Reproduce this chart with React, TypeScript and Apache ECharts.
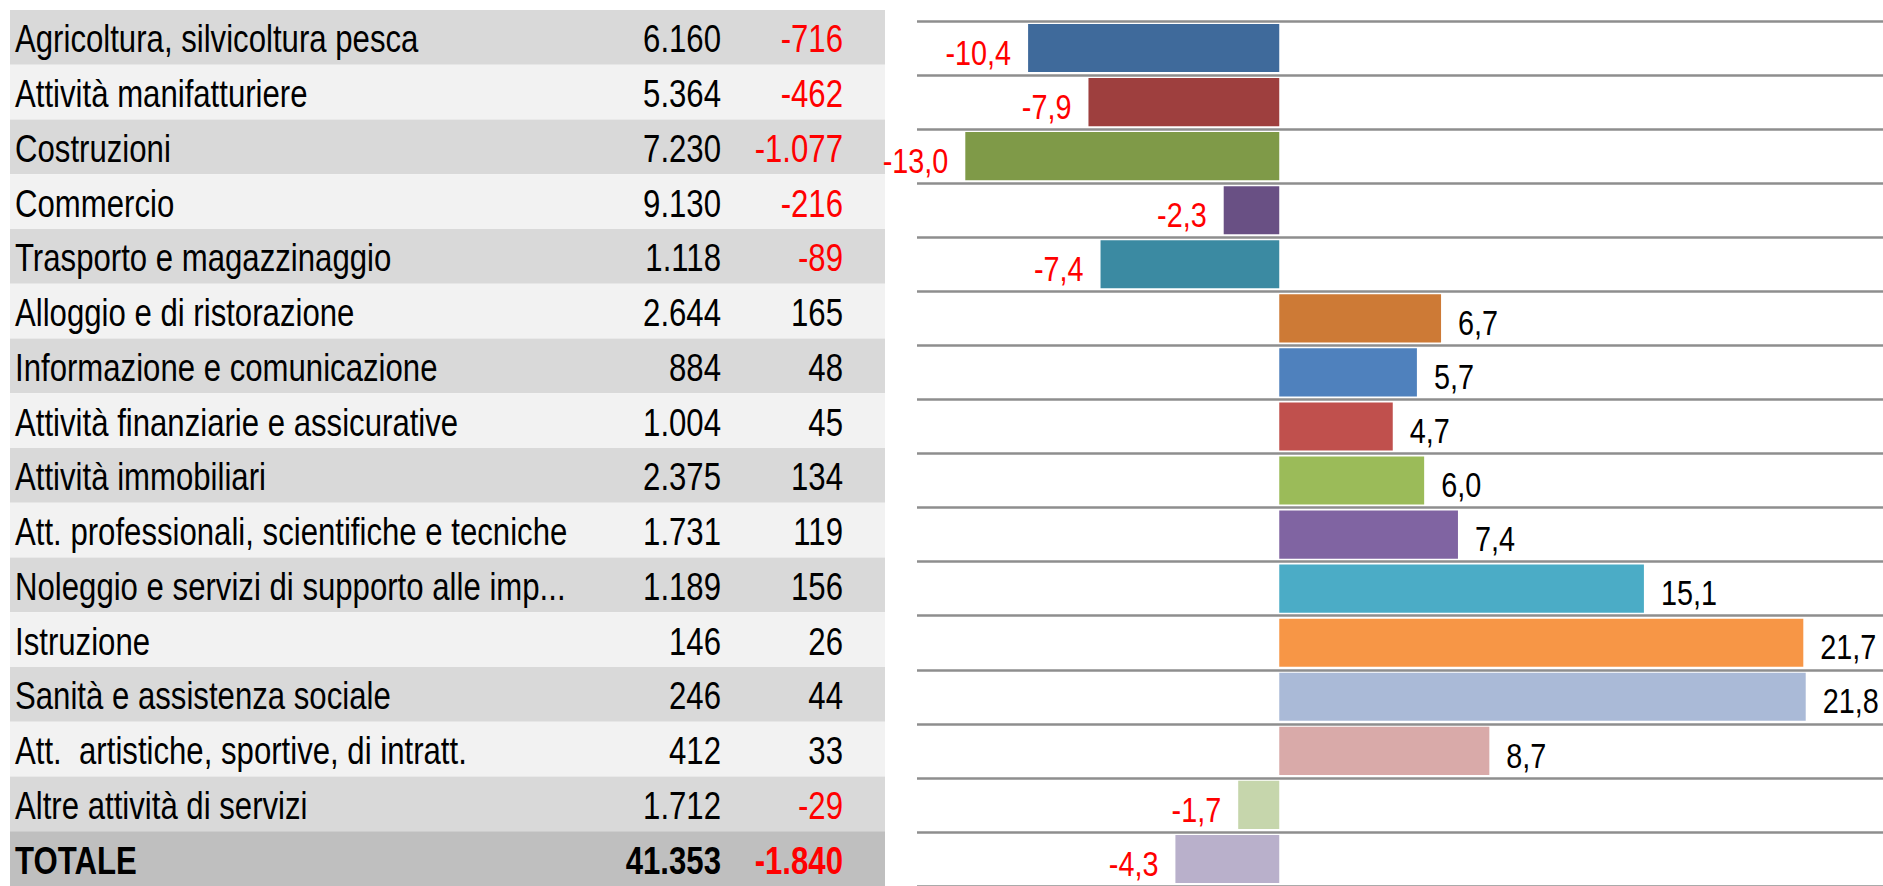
import React, { useEffect, useRef } from "react";
import * as echarts from "echarts";

const categories = [
  "Agricoltura, silvicoltura pesca",
  "Attività manifatturiere",
  "Costruzioni",
  "Commercio",
  "Trasporto e magazzinaggio",
  "Alloggio e di ristorazione",
  "Informazione e comunicazione",
  "Attività finanziarie e assicurative",
  "Attività immobiliari",
  "Att. professionali, scientifiche e tecniche",
  "Noleggio e servizi di supporto alle imp...",
  "Istruzione",
  "Sanità e assistenza sociale",
  "Att.  artistiche, sportive, di intratt.",
  "Altre attività di servizi",
  "TOTALE",
];

const occupati = [6160, 5364, 7230, 9130, 1118, 2644, 884, 1004, 2375, 1731, 1189, 146, 246, 412, 1712, 41353];
const variazione = [-716, -462, -1077, -216, -89, 165, 48, 45, 134, 119, 156, 26, 44, 33, -29, -1840];
const variazionePct = [-10.4, -7.9, -13.0, -2.3, -7.4, 6.7, 5.7, 4.7, 6.0, 7.4, 15.1, 21.7, 21.8, 8.7, -1.7, -4.3];

const barColors = [
  "#3f6a9b", "#9e3f3e", "#7f9a48", "#695084", "#3b8aa2", "#cd7a36",
  "#4f81bd", "#c0504d", "#9bbb59", "#8064a2", "#4bacc6", "#f79646",
  "#aabad7", "#d9aaa9", "#c6d6ac", "#b9b0cb",
];

const FONT = "'Liberation Sans', Arial, sans-serif";

function fmtInt(n: number): string {
  const s = Math.abs(n).toString().replace(/\B(?=(\d{3})+(?!\d))/g, ".");
  return (n < 0 ? "-" : "") + s;
}
function fmtPct(n: number): string {
  return n.toFixed(1).replace(".", ",");
}

export default function App() {
  const ref = useRef<HTMLDivElement>(null);
  useEffect(() => {
    if (!ref.current) return;
    const chart = echarts.init(ref.current, undefined, { renderer: "svg" });
    const lastIdx = categories.length - 1;
    const tableText = (text: string, x: number, y: number, align: string, color: string, bold: boolean) => ({
      type: "text",
      x,
      y,
      scaleX: 0.82,
      style: {
        text,
        x: 0,
        y: 0,
        fill: color,
        fontFamily: FONT,
        fontSize: 38,
        fontWeight: bold ? "bold" : "normal",
        align,
        verticalAlign: "middle",
      },
    });
    const option: any = {
      animation: false,
      backgroundColor: "#ffffff",
      grid: [
        { left: 10, top: 10, width: 875, height: 880 },
        { left: 917, top: 21, width: 967, height: 869 },
      ],
      xAxis: [
        { gridIndex: 0, type: "value", min: 0, max: 875, show: false },
        {
          gridIndex: 1, type: "value", min: -15, max: 25, interval: 5,
          axisLine: { show: false }, axisTick: { show: false }, axisLabel: { show: false },
          splitLine: { show: false },
        },
      ],
      yAxis: [
        { gridIndex: 0, type: "category", data: categories, inverse: true, show: false },
        {
          gridIndex: 1, type: "category", data: categories, inverse: true,
          axisLine: { show: false }, axisTick: { show: false }, axisLabel: { show: false },
          splitLine: { show: true, lineStyle: { color: "#8e8e8e", width: 2.5 } },
        },
      ],
      series: [
        {
          type: "custom",
          silent: true,
          xAxisIndex: 0,
          yAxisIndex: 0,
          encode: { x: 0, y: 1 },
          data: categories.map((_, i) => [0, i]),
          renderItem: (params: any, api: any) => {
            const idx = api.value(1);
            const c0 = api.coord([0, idx]);
            const c1 = api.coord([875, idx]);
            const h = api.size([0, 1])[1];
            const yc = c0[1] + 2;
            const isTotal = idx === lastIdx;
            const bg = isTotal ? "#bfbfbf" : idx % 2 === 0 ? "#d9d9d9" : "#f2f2f2";
            const xName = api.coord([5, idx])[0];
            const xV1 = api.coord([711, idx])[0];
            const xV2 = api.coord([833, idx])[0];
            const v2 = variazione[idx];
            return {
              type: "group",
              children: [
                { type: "rect", shape: { x: c0[0], y: c0[1] - h / 2, width: c1[0] - c0[0], height: h }, style: { fill: bg } },
                tableText(categories[idx], xName, yc, "left", "#000000", isTotal),
                tableText(fmtInt(occupati[idx]), xV1, yc, "right", "#000000", isTotal),
                tableText(fmtInt(v2), xV2, yc, "right", v2 < 0 ? "#ff0000" : "#000000", isTotal),
              ],
            };
          },
        },
        {
          type: "bar",
          xAxisIndex: 1,
          yAxisIndex: 1,
          barCategoryGap: "11%",
          data: variazionePct.map((v, i) => ({
            value: v,
            itemStyle: { color: barColors[i] },
          })),
        },
        {
          type: "custom",
          silent: true,
          xAxisIndex: 1,
          yAxisIndex: 1,
          encode: { x: 0, y: 1 },
          z: 5,
          data: variazionePct.map((v, i) => [v, i]),
          renderItem: (params: any, api: any) => {
            const v = api.value(0);
            const idx = api.value(1);
            const p = api.coord([v, idx]);
            const neg = v < 0;
            return {
              type: "text",
              x: p[0] + (neg ? -17 : 17),
              y: p[1] + 4,
              scaleX: 0.8,
              style: {
                text: fmtPct(v),
                x: 0,
                y: 0,
                fill: neg ? "#ff0000" : "#000000",
                fontFamily: FONT,
                fontSize: 36,
                align: neg ? "right" : "left",
                verticalAlign: "middle",
              },
            };
          },
        },
      ],
    };
    chart.setOption(option);
    return () => chart.dispose();
  }, []);
  return (
    <div
      ref={ref}
      style={{ position: "absolute", left: 0, top: 0, width: 1883, height: 886 }}
    />
  );
}
